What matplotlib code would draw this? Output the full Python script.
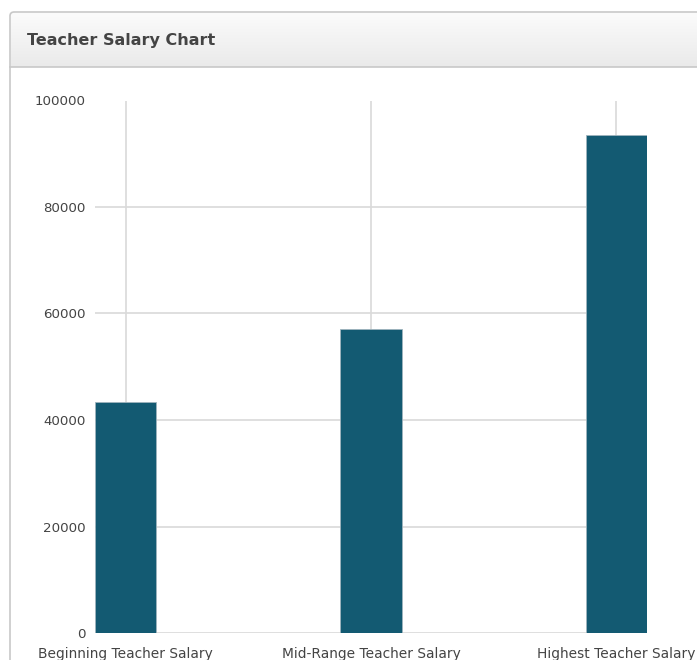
import matplotlib
matplotlib.use("Agg")
import matplotlib.pyplot as plt
import numpy as np
from matplotlib.patches import FancyBboxPatch
from matplotlib.lines import Line2D
from matplotlib.colors import LinearSegmentedColormap

categories = ["Beginning Teacher Salary", "Mid-Range Teacher Salary", "Highest Teacher Salary"]
salaries = [43300, 57000, 93500]
y_ticks = [0, 20000, 40000, 60000, 80000, 100000]
title = "Teacher Salary Chart"

W, H = 697, 660
fig = plt.figure(figsize=(W / 100, H / 100), dpi=100)
fig.patch.set_facecolor("white")

def fx(px):
    return px / W

def fy(py):
    return 1 - py / H

# header gradient
hax = fig.add_axes([fx(11), fy(67), fx(700), fy(13) - fy(67)], zorder=-2)
grad = np.linspace(0, 1, 100).reshape(-1, 1)
cm = LinearSegmentedColormap.from_list("g", ["#fbfbfb", "#eaeaea"])
hax.imshow(grad, aspect="auto", cmap=cm, extent=[0, 1, 0, 1], origin="upper")
hax.set_axis_off()

# panel border
panel = FancyBboxPatch((fx(10), fy(700)), fx(760), fy(12) - fy(700),
                       boxstyle="round,pad=0,rounding_size=0.006",
                       transform=fig.transFigure, facecolor="none",
                       edgecolor="#c8c8c8", linewidth=1.2, zorder=5)
fig.patches.append(panel)
fig.lines.append(Line2D([fx(10), 1], [fy(67), fy(67)], transform=fig.transFigure,
                        color="#c8c8c8", linewidth=1.2, zorder=5))
fig.text(fx(27), fy(41), title, fontsize=11.5, fontweight="bold", color="#444444",
         va="center", ha="left", zorder=6)

ax = fig.add_axes([fx(95), fy(633), fx(647) - fx(95), fy(100.5) - fy(633)])
x = np.arange(len(categories))
ax.set_xlim(-0.125, 2.125)
ax.set_ylim(0, 100000)
for yv in y_ticks:
    ax.axhline(yv, color="#d9d9d9", linewidth=1.2, zorder=0)
for xi, v in zip(x, salaries):
    ax.plot([xi, xi], [v, 100000], color="#d9d9d9", linewidth=1.2, zorder=0)
ax.bar(x, salaries, width=0.25, color="#135a72", edgecolor="#9fb4bd",
       linewidth=0.6, zorder=2)
ax.set_yticks(y_ticks)
ax.set_yticklabels([str(t) for t in y_ticks])
ax.set_xticks(x)
ax.set_xticklabels(categories)
ax.tick_params(length=0, labelcolor="#444444")
ax.tick_params(axis="y", pad=7, labelsize=9.6)
ax.tick_params(axis="x", pad=10, labelsize=9.9)
for s in ax.spines.values():
    s.set_visible(False)
ax.patch.set_alpha(0)

fig.savefig("out.png", dpi=100)
